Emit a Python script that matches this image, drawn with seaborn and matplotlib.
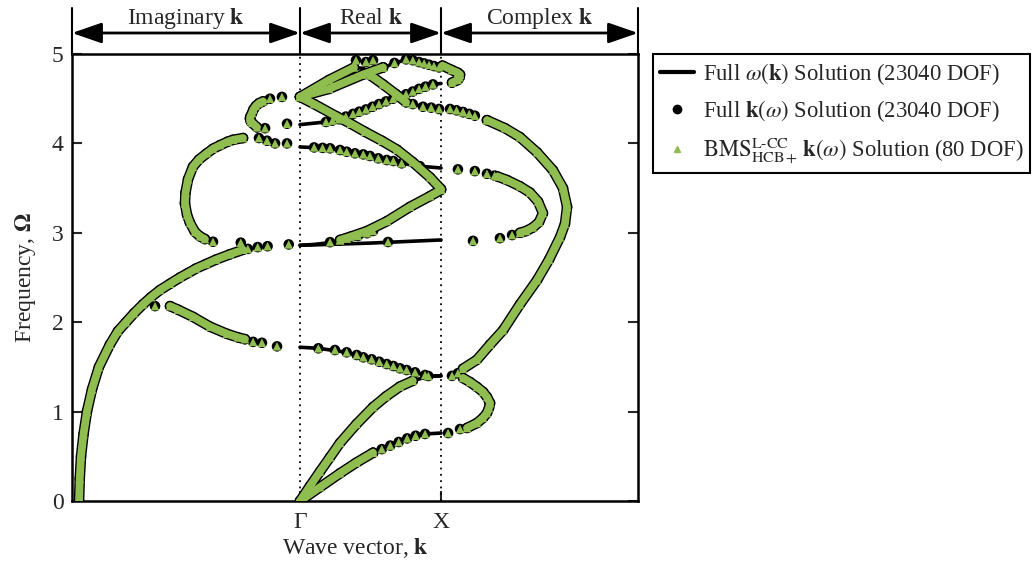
import matplotlib
matplotlib.use("Agg")
import matplotlib.pyplot as plt
import matplotlib.transforms as mtransforms
from matplotlib.lines import Line2D
import seaborn as sns

sns.set_theme(style="white")
plt.rcParams["font.family"] = ["Liberation Serif", "DejaVu Serif"]
plt.rcParams["mathtext.fontset"] = "stix"

GREEN = "#8fbd4f"
FS = 17

# ---------------------------------------------------------------------------
# Wave-vector axis: Gamma = 0, X = 1.  Left of Gamma: imaginary k, right of X:
# complex k.  Each branch is a list of (k, Omega) pairs.
# ---------------------------------------------------------------------------
x_limits = (-1.617, 2.397)
region_edges = [-1.617, 0.0, 1.0, 2.397]
region_names = [r"Imaginary $\mathbf{k}$", r"Real $\mathbf{k}$", r"Complex $\mathbf{k}$"]
x_tick_pos = [0.0, 1.0]
x_tick_labels = ["\u0393", "X"]
y_ticks = [0, 1, 2, 3, 4, 5]

# --- imaginary-k branches (dense traces) ---
imag_low = [(-1.567, 0.00), (-1.562, 0.25), (-1.553, 0.50), (-1.535, 0.75),
            (-1.511, 1.00), (-1.475, 1.25), (-1.426, 1.50), (-1.348, 1.75),
            (-1.291, 1.90), (-1.234, 2.00), (-1.177, 2.10), (-1.113, 2.20),
            (-1.057, 2.28), (-0.993, 2.36), (-0.922, 2.43), (-0.851, 2.50),
            (-0.794, 2.55), (-0.738, 2.60), (-0.667, 2.65), (-0.596, 2.70),
            (-0.496, 2.76), (-0.404, 2.81)]
imag_mid = [(-0.922, 2.18), (-0.865, 2.14), (-0.759, 2.06), (-0.638, 1.95),
            (-0.518, 1.87), (-0.440, 1.83), (-0.390, 1.81)]
imag_arc = [(-0.674, 2.93), (-0.709, 2.96), (-0.745, 3.01), (-0.780, 3.11),
            (-0.801, 3.20), (-0.816, 3.33), (-0.812, 3.45), (-0.794, 3.60),
            (-0.759, 3.74), (-0.716, 3.82), (-0.660, 3.89), (-0.617, 3.94),
            (-0.567, 3.98), (-0.511, 4.02), (-0.475, 4.04), (-0.404, 4.06)]
imag_hook = [(-0.262, 4.47), (-0.290, 4.45), (-0.312, 4.42), (-0.330, 4.38),
             (-0.340, 4.34), (-0.352, 4.30), (-0.355, 4.28), (-0.350, 4.25),
             (-0.340, 4.23), (-0.305, 4.18)]
# isolated imaginary-k solutions near the band edges
imag_sparse = [(-0.370, 2.82), (-0.300, 2.84), (-0.230, 2.85), (-0.080, 2.87),
               (-1.028, 2.18), (-0.333, 1.78), (-0.270, 1.77), (-0.163, 1.73),
               (-0.617, 2.90), (-0.420, 2.89),
               (-0.291, 4.06), (-0.234, 4.03), (-0.177, 4.00), (-0.092, 4.00),
               (-0.128, 4.52), (-0.213, 4.50), (-0.248, 4.17), (-0.092, 4.22)]

# --- real-k dispersion curves omega(k) ---
real_b1 = [(0.0, 0.00), (0.070, 0.165), (0.142, 0.33), (0.213, 0.49), (0.284, 0.65),
           (0.400, 0.86), (0.518, 1.05), (0.610, 1.17), (0.709, 1.28), (0.800, 1.345),
           (0.900, 1.39), (1.0, 1.40)]
real_b2 = [(0.0, 0.00), (0.142, 0.155), (0.284, 0.31), (0.400, 0.43), (0.518, 0.54),
           (0.640, 0.63), (0.759, 0.70), (0.887, 0.75), (1.0, 0.76)]
real_b3 = [(0.0, 1.72), (0.130, 1.708), (0.331, 1.663), (0.562, 1.558),
           (0.756, 1.465), (0.910, 1.398), (1.0, 1.40)]
real_b4 = [(0.0, 2.86), (0.5, 2.885), (1.0, 2.92)]
real_b5 = [(0.0, 2.86), (0.100, 2.87), (0.213, 2.89), (0.284, 2.92), (0.355, 2.955),
           (0.475, 3.02), (0.617, 3.13), (0.780, 3.29), (0.922, 3.41), (1.0, 3.48)]
real_b6 = [(0.0, 3.96), (0.213, 3.945), (0.449, 3.877), (0.615, 3.814),
           (0.721, 3.777), (0.850, 3.745), (1.0, 3.725)]
real_b7 = [(0.0, 4.52), (0.100, 4.44), (0.262, 4.30), (0.360, 4.22), (0.461, 4.13),
           (0.580, 4.03), (0.688, 3.93), (0.800, 3.79), (0.922, 3.62), (1.0, 3.49)]
real_b8 = [(0.0, 4.21), (0.184, 4.24), (0.277, 4.27), (0.376, 4.33), (0.468, 4.38),
           (0.560, 4.44), (0.660, 4.50), (0.752, 4.55), (0.844, 4.61), (0.943, 4.66),
           (1.0, 4.67)]
real_b9 = [(0.0, 4.52), (0.206, 4.61), (0.447, 4.77), (0.589, 4.85), (0.752, 4.94),
           (0.844, 4.91), (0.915, 4.88), (0.986, 4.85), (1.0, 4.85)]
real_b10 = [(0.0, 4.52), (0.206, 4.71), (0.383, 4.85), (0.450, 4.84), (0.500, 4.76),
            (0.589, 4.66), (0.681, 4.55), (0.752, 4.46), (0.872, 4.41), (1.0, 4.37)]

# real-k solutions of k(omega) that appear as separate markers
real_b2_pts = [(0.52, 0.54), (0.58, 0.58), (0.64, 0.62), (0.70, 0.66), (0.76, 0.70),
               (0.82, 0.73), (0.887, 0.75)]
real_b3_pts = [(0.130, 1.708), (0.248, 1.689), (0.331, 1.663), (0.402, 1.633),
               (0.449, 1.607), (0.508, 1.585), (0.562, 1.558), (0.615, 1.532),
               (0.662, 1.510), (0.709, 1.484), (0.756, 1.465), (0.816, 1.439),
               (0.887, 1.409), (0.910, 1.398)]
real_b4_pts = [(0.624, 2.897)]
real_b5_pts = [(0.213, 2.895), (0.284, 2.915), (0.333, 2.935), (0.411, 2.965),
               (0.475, 2.995), (0.518, 3.02)]
real_b6_pts = [(0.100, 3.955), (0.160, 3.950), (0.213, 3.945), (0.284, 3.926),
               (0.331, 3.907), (0.390, 3.889), (0.449, 3.877), (0.496, 3.859),
               (0.555, 3.833), (0.615, 3.814), (0.662, 3.803), (0.721, 3.777),
               (0.850, 3.745)]
real_b8_pts = [(0.184, 4.24), (0.230, 4.255), (0.277, 4.27), (0.325, 4.30),
               (0.376, 4.33), (0.420, 4.355), (0.468, 4.38), (0.515, 4.41),
               (0.560, 4.44), (0.610, 4.47), (0.660, 4.50), (0.705, 4.525),
               (0.752, 4.55), (0.800, 4.58), (0.844, 4.61), (0.890, 4.635),
               (0.943, 4.66)]
real_b9_pts = [(0.589, 4.85), (0.670, 4.90), (0.752, 4.94), (0.800, 4.93),
               (0.844, 4.91), (0.880, 4.895), (0.915, 4.88), (0.950, 4.865),
               (0.986, 4.85)]
real_top_pts = [(0.397, 4.93), (0.468, 4.91), (0.518, 4.93)]
real_b10_pts = [(0.800, 4.44), (0.872, 4.41), (0.930, 4.40), (0.986, 4.385)]

# --- complex-k branches ---
cplx_outer = [(1.156, 4.35), (1.240, 4.31), (1.326, 4.26), (1.454, 4.17),
              (1.560, 4.07), (1.681, 3.90), (1.794, 3.70), (1.865, 3.50),
              (1.894, 3.29), (1.879, 3.10), (1.844, 2.95), (1.766, 2.70),
              (1.681, 2.47), (1.560, 2.20), (1.440, 1.91), (1.348, 1.75),
              (1.255, 1.58), (1.156, 1.48)]
cplx_inner = [(1.400, 3.63), (1.468, 3.59), (1.560, 3.52), (1.631, 3.45),
              (1.688, 3.35), (1.723, 3.22), (1.695, 3.12), (1.652, 3.06),
              (1.603, 3.02), (1.560, 3.00)]
cplx_top = [(1.010, 4.87), (1.078, 4.82), (1.120, 4.79), (1.135, 4.77),
            (1.132, 4.74), (1.120, 4.71), (1.078, 4.68)]
cplx_low = [(1.156, 1.376), (1.206, 1.33), (1.255, 1.275), (1.298, 1.22),
            (1.326, 1.163), (1.348, 1.096), (1.340, 1.04), (1.326, 0.984),
            (1.298, 0.93), (1.255, 0.872), (1.184, 0.817)]
cplx_sparse = [(1.064, 4.385), (1.110, 4.37), (1.156, 4.35), (1.200, 4.33),
               (1.120, 1.43), (1.078, 1.40),
               (1.120, 3.71), (1.240, 3.69), (1.326, 3.66), (1.380, 3.64),
               (1.504, 2.975), (1.418, 2.94), (1.227, 2.91),
               (1.135, 0.805), (1.050, 0.76)]

real_curves = [real_b1, real_b2, real_b3, real_b4, real_b5, real_b6, real_b7,
               real_b8, real_b9, real_b10]
dense_traces = [imag_low, imag_mid, imag_arc, imag_hook,
                real_b1[:-2], real_b2[:5], real_b5[3:], real_b7,
                real_b9[:4], real_b10[:3], real_b10[4:8],
                cplx_outer[2:], cplx_inner, cplx_top, cplx_low]
marker_sets = [imag_sparse, real_b2_pts, real_b3_pts, real_b4_pts, real_b5_pts,
               real_b6_pts, real_b8_pts, real_b9_pts, real_b10_pts, real_top_pts,
               cplx_sparse, cplx_outer[:3]] + dense_traces


def split(pts):
    return [p[0] for p in pts], [p[1] for p in pts]


fig = plt.figure(figsize=(10.36, 5.69), dpi=100)
ax = fig.add_axes([72 / 1036, 68 / 569, 566 / 1036, 447 / 569])

# region separators
for xv in (0.0, 1.0):
    ax.axvline(xv, color="black", lw=1.3, ls=(0, (1, 2.5)), zorder=1)

# omega(k) solution on the real segment
for c in real_curves:
    kx, wy = split(c)
    sns.lineplot(x=kx, y=wy, sort=False, estimator=None, color="black", lw=2.6,
                 ax=ax, zorder=2)

# full k(omega) solution (black) underneath the reduced model (green)
for c in dense_traces:
    kx, wy = split(c)
    sns.lineplot(x=kx, y=wy, sort=False, estimator=None, color="black", lw=7.6,
                 ax=ax, zorder=3, solid_capstyle="round", solid_joinstyle="round")
for m in marker_sets:
    kx, wy = split(m)
    sns.scatterplot(x=kx, y=wy, marker="o", s=58, color="black", edgecolor="none",
                    ax=ax, zorder=3)
for c in dense_traces:
    kx, wy = split(c)
    sns.lineplot(x=kx, y=wy, sort=False, estimator=None, color=GREEN, lw=5.6,
                 ax=ax, zorder=4, solid_capstyle="round", solid_joinstyle="round")
for m in marker_sets:
    kx, wy = split(m)
    sns.scatterplot(x=kx, y=wy, marker="^", s=38, color=GREEN, edgecolor="none",
                    ax=ax, zorder=4)

ax.set_xlim(*x_limits)
ax.set_ylim(0, 5)
ax.set_xticks(x_tick_pos)
ax.set_xticklabels(x_tick_labels, fontsize=FS)
ax.set_yticks(y_ticks)
ax.set_yticklabels([str(t) for t in y_ticks], fontsize=FS)
ax.tick_params(axis="y", direction="in", length=7, width=1.5, left=True, right=True,
               pad=6)
ax.tick_params(axis="x", direction="in", length=7, width=1.5, bottom=True, pad=8)
for s in ax.spines.values():
    s.set_color("black")
    s.set_linewidth(1.8)
ax.set_xlabel(r"Wave vector, $\mathbf{k}$", fontsize=FS, labelpad=2)
ax.set_ylabel(r"Frequency, $\mathbf{\Omega}$", fontsize=FS, labelpad=10)

# region banner above the axes
trans = mtransforms.blended_transform_factory(ax.transData, ax.transAxes)
for xe in region_edges:
    ax.plot([xe, xe], [1.0, 1.102], transform=trans, color="black", lw=1.5,
            clip_on=False, zorder=5)
for i, name in enumerate(region_names):
    x0, x1 = region_edges[i], region_edges[i + 1]
    ax.annotate("", xy=(x0, 1.047), xytext=(x1, 1.047), xycoords=trans,
                textcoords=trans,
                arrowprops=dict(arrowstyle="<|-|>,head_length=1.3,head_width=0.45",
                                mutation_scale=14, lw=2, color="black",
                                shrinkA=0, shrinkB=0))
    ax.text((x0 + x1) / 2, 1.066, name, transform=trans, ha="center",
            va="baseline", fontsize=FS)

handles = [
    Line2D([], [], color="black", lw=3),
    Line2D([], [], color="black", marker="o", ls="none", markersize=6),
    Line2D([], [], color=GREEN, marker="^", ls="none", markersize=5),
]
labels = [
    r"Full $\omega(\mathbf{k})$ Solution (23040 DOF)",
    r"Full $\mathbf{k}(\omega)$ Solution (23040 DOF)",
    "$\\mathrm{BMS}^{\\mathrm{L\u2010CC}}_{\\mathrm{HCB+}}$"
    "$\\,\\mathbf{k}(\\omega)$ Solution (80 DOF)",
]
leg = fig.legend(handles, labels, loc="upper left",
                 bbox_to_anchor=(653 / 1036, 1 - 54 / 569),
                 fontsize=16.3, frameon=True, fancybox=False, framealpha=1,
                 edgecolor="black", borderpad=0.3, labelspacing=0.5,
                 handlelength=1.5, handletextpad=0.4, borderaxespad=0)
leg.get_frame().set_linewidth(1.5)

fig.savefig("out.png", dpi=100)
